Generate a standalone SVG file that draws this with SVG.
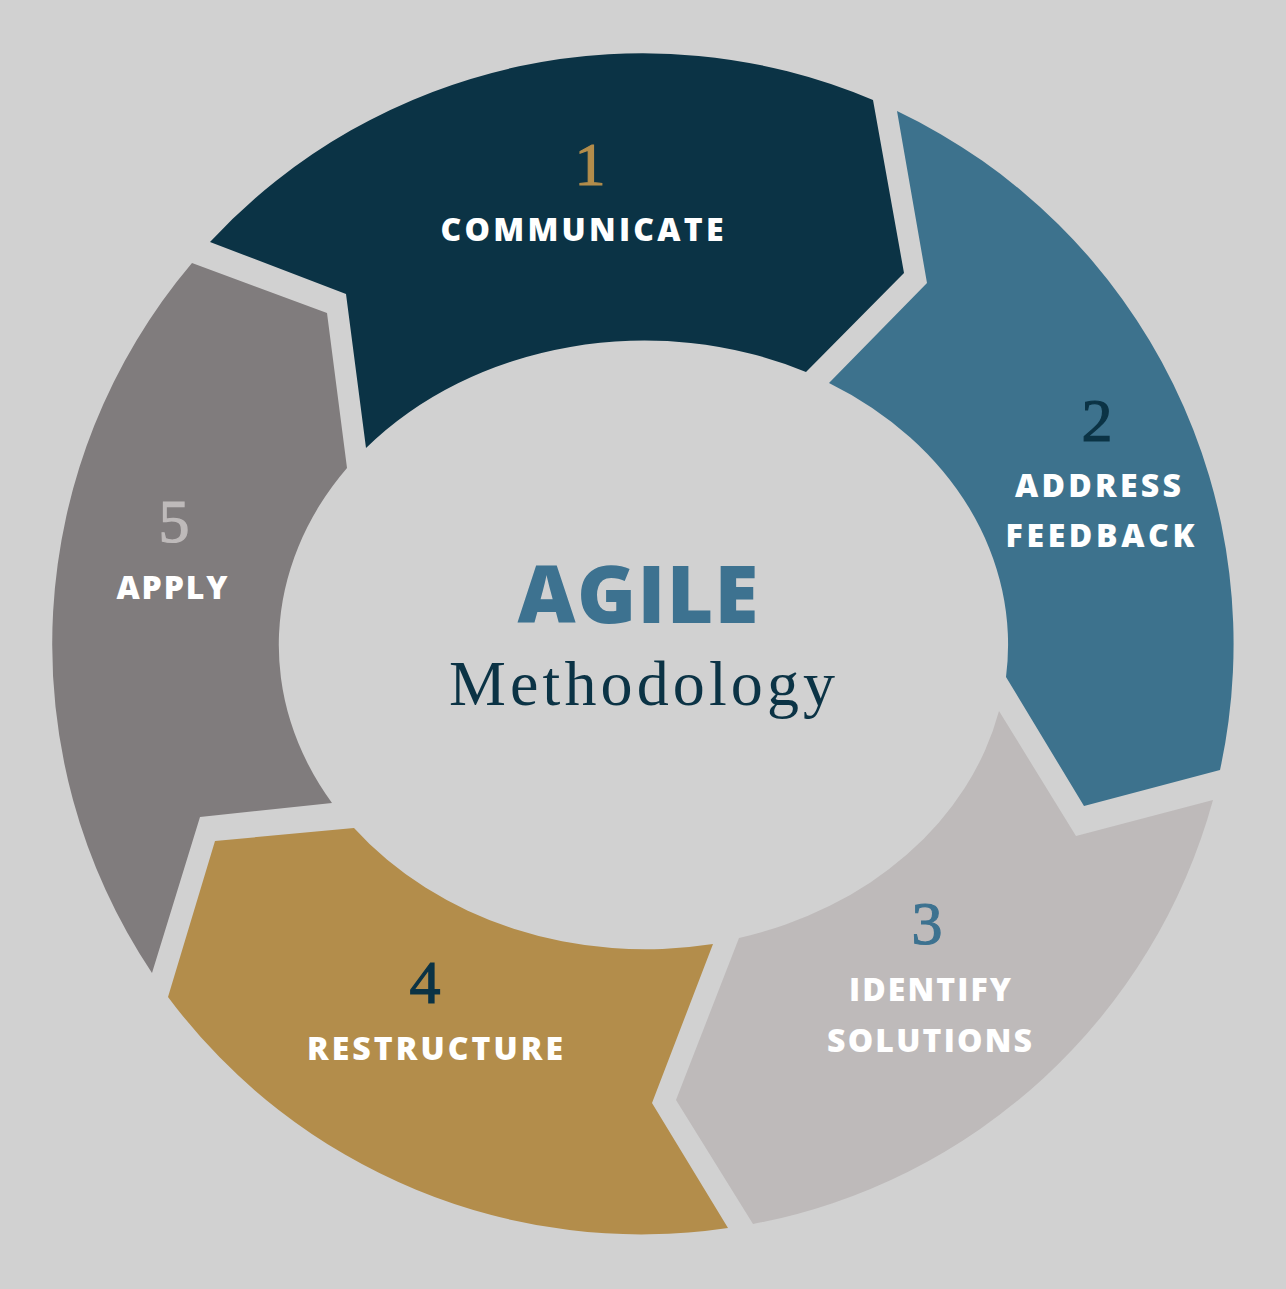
<svg xmlns="http://www.w3.org/2000/svg" width="1286" height="1289" viewBox="0 0 1286 1289">
  <style>
    .num { font-family: "Liberation Serif", "DejaVu Serif", serif; font-size: 62px; text-anchor: middle; stroke-width: 1.2px; }
    .lbl { font-family: "Open Sans", "Liberation Sans", sans-serif; font-weight: 800; font-size: 32px; fill: #ffffff; text-anchor: middle; }
    .title { font-family: "Open Sans", "Liberation Sans", sans-serif; font-weight: 800; font-size: 80px; fill: #3d7290; text-anchor: middle; }
    .sub { font-family: "Liberation Serif", "DejaVu Serif", serif; font-size: 64px; fill: #0b3345; text-anchor: middle; }
  </style>
  <rect x="0" y="0" width="1286" height="1289" fill="#d1d1d1"/>
  <g id="connectors"></g>
  <g id="step1">
    <path d="M 210 242 A 590.5 590.5 0 0 1 873 100 L 904 273 L 806 372 A 365 304 0 0 0 366 448 L 346 294 Z" fill="#0b3345"/>
    <text class="num" x="590" y="185" fill="#b38d4b" stroke="#b38d4b">1</text>
    <text class="lbl" x="582" y="241" textLength="283" lengthAdjust="spacing">COMMUNICATE</text>
  </g>
  <g id="step2">
    <path d="M 897 111 A 590.5 590.5 0 0 1 1220 770 L 1084 806 L 1006 677 A 365 304 0 0 0 829 383 L 927 283 Z" fill="#3d728d"/>
    <text class="num" x="1097" y="441" fill="#0b3345" stroke="#0b3345">2</text>
    <text class="lbl" x="1098" y="497" textLength="166" lengthAdjust="spacing">ADDRESS</text>
    <text class="lbl" x="1100" y="547" textLength="189" lengthAdjust="spacing">FEEDBACK</text>
  </g>
  <g id="step3">
    <path d="M 1213 800 A 590.5 590.5 0 0 1 753 1224 L 676 1100 L 739 938 A 365 304 0 0 0 999 711 L 1076 836 Z" fill="#bebaba"/>
    <text class="num" x="927" y="944" fill="#3d7290" stroke="#3d7290">3</text>
    <text class="lbl" x="930" y="1001" textLength="162" lengthAdjust="spacing">IDENTIFY</text>
    <text class="lbl" x="929.5" y="1052" textLength="205" lengthAdjust="spacing">SOLUTIONS</text>
  </g>
  <g id="step4">
    <path d="M 728 1228 A 590.5 590.5 0 0 1 168 997 L 215 841 L 354 828 A 365 304 0 0 0 713 944 L 652 1103 Z" fill="#b38d4b"/>
    <text class="num" x="425" y="1003" fill="#0b3345" stroke="#0b3345">4</text>
    <text class="lbl" x="435" y="1060" textLength="256" lengthAdjust="spacing">RESTRUCTURE</text>
  </g>
  <g id="step5">
    <path d="M 152 973 A 590.5 590.5 0 0 1 192 263 L 327 313 L 347 468 A 365 304 0 0 0 332 803 L 200 817 Z" fill="#807c7d"/>
    <text class="num" x="174" y="542" fill="#bebaba" stroke="#bebaba">5</text>
    <text class="lbl" x="172" y="599" textLength="111" lengthAdjust="spacing">APPLY</text>
  </g>
  <g id="center">
    <text class="title" x="638" y="623" textLength="241" lengthAdjust="spacing">AGILE</text>
    <text class="sub" x="642" y="705" textLength="386" lengthAdjust="spacing">Methodology</text>
  </g>
</svg>
